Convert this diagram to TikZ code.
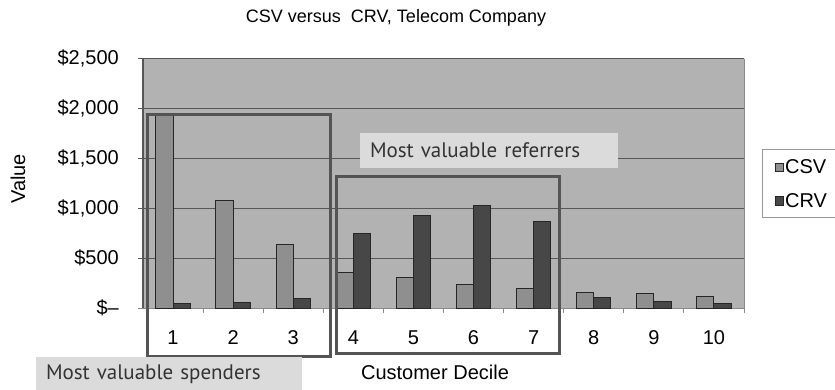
\documentclass[tikz,border=0pt]{standalone}
\usepackage{fontspec}
\setmainfont{Liberation Sans}
\newfontfamily\notefont{PT Sans}

\definecolor{plotbg}{gray}{0.70}
\definecolor{csvgray}{gray}{0.56}
\definecolor{crvgray}{gray}{0.28}
\definecolor{gridgray}{gray}{0.34}
\definecolor{framegray}{gray}{0.33}
\definecolor{notegray}{gray}{0.86}

\tikzset{
  grid line/.style={gridgray, line width=1pt},
  bar csv/.style={fill=csvgray, draw=black!85, line width=1pt},
  bar crv/.style={fill=crvgray, draw=black!85, line width=1pt},
  group frame/.style={draw=framegray, line width=3pt},
  tick label/.style={font=\fontsize{20}{20}\selectfont, inner sep=0pt},
  note box/.style={fill=notegray, font=\notefont\fontsize{21}{21}\selectfont,
    text=black!80, inner xsep=10pt, align=left},
}

\begin{document}
\begin{tikzpicture}[x=1pt, y=-1pt]
  \useasboundingbox (0,0) rectangle (835,389);

  % plot area and grid
  \fill[plotbg] (143,59) rectangle (744,308);
  \foreach \k in {1,...,5}
    \draw[grid line] (138,308-\k*50) -- (744,308-\k*50);
  \draw[gridgray!70, line width=1pt] (744,59) -- (744,308);
  \draw[gridgray!70, line width=1pt] (138,308) -- (744,308);
  \draw[gridgray, line width=1.2pt] (143,59) -- (143,308);
  \foreach \i in {1,...,10}
    \draw[gridgray!70, line width=1pt] (143+\i*60.1,308) -- (143+\i*60.1,313);

  % bars
  \foreach \i/\csv/\crv in {1/1930/45, 2/1070/60, 3/640/100, 4/360/750,
      5/310/930, 6/240/1020, 7/200/870, 8/160/110, 9/150/70, 10/120/50} {
    \pgfmathsetmacro\c{143+60.1*(\i-0.5)}
    \draw[bar csv] (\c-17.2,308) rectangle (\c,308-\csv*0.1);
    \draw[bar crv] (\c,308) rectangle (\c+17.2,308-\crv*0.1);
    \node[tick label] (cat\i) at (\c,338) {\i};
  }

  % value axis
  \foreach \k/\txt in {0/{\$--}, 1/{\$500}, 2/{\$1,000}, 3/{\$1,500},
      4/{\$2,000}, 5/{\$2,500}}
    \node[tick label, anchor=east] (val\k) at (119,308-\k*50) {\txt};

  \node[font=\fontsize{18}{18}\selectfont] (title) at (396,18)
    {CSV versus\ \ CRV, Telecom Company};
  \node[tick label, rotate=90] (ylab) at (18,179) {Value};
  \node[tick label] (xlab) at (435,372) {Customer Decile};

  % legend
  \draw[gray!80, line width=0.8pt] (762,149) rectangle (836,217);
  \draw[bar csv, line width=0.8pt] (775,163) rectangle (783,171);
  \draw[bar crv, line width=0.8pt] (775,196) rectangle (783,205);
  \node[tick label, anchor=west] (legcsv) at (785,167) {CSV};
  \node[tick label, anchor=west] (legcrv) at (785,200.5) {CRV};

  % highlighted groups
  \draw[group frame] (147,114) rectangle (330,356);
  \draw[group frame] (336,176) rectangle (559,353);
  \node[note box, minimum height=35pt, text width=238pt] (referrers)
    at (489,150.5) {Most valuable referrers};
  \node[note box, minimum height=34pt, text width=246pt] (spenders)
    at (169,374) {Most valuable spenders};
\end{tikzpicture}
\end{document}
